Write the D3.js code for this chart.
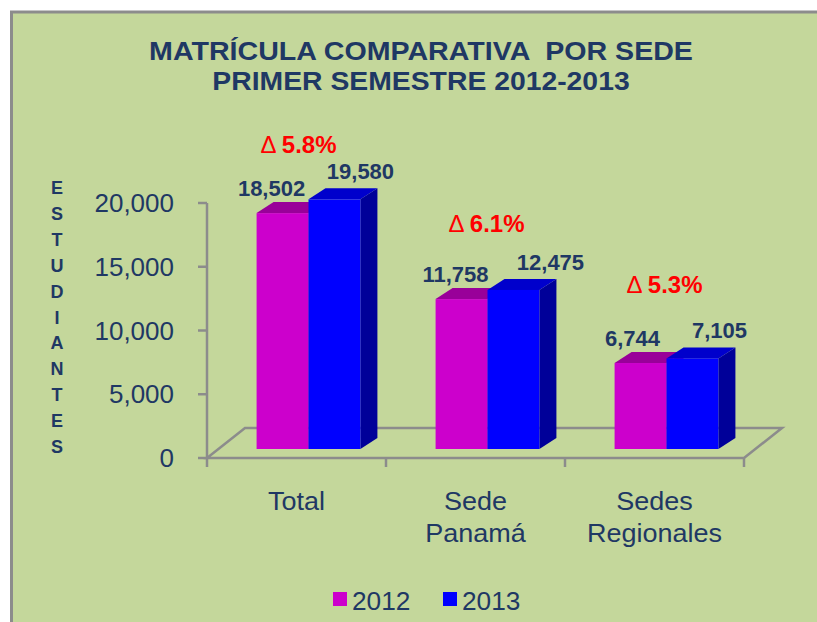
<!DOCTYPE html>
<html>
<head>
<meta charset="utf-8">
<script src="https://cdn.jsdelivr.net/npm/d3@7"></script>
<style>
  html, body { margin: 0; padding: 0; background: #fff; }
  svg { display: block; font-family: Arial, "Liberation Sans", sans-serif; }
</style>
</head>
<body>
<svg id="chart" width="817" height="622"></svg>
<script>
// data
var categories = [['Total'], ['Sede', 'Panamá'], ['Sedes', 'Regionales']];
var series = ['2012', '2013'];
var values2012 = [18502, 11758, 6744];
var values2013 = [19580, 12475, 7105];
var deltas = ['5.8%', '6.1%', '5.3%'];
var yTicks = [0, 5000, 10000, 15000, 20000];

// layout
var colors = {
  '2012': { front: '#cc00cc', top: '#990099', side: '#990099' },
  '2013': { front: '#0000ff', top: '#0000cc', side: '#000099' }
};
var textColor = '#1f3864';
var gridColor = '#8c8c8c';
var floorDepth = [38, -30];   // oblique offset of the floor
var barShift = [12, -9];      // bar front face, relative to the front plane
var barDepth = [17, -11];
// labels were placed by hand in the original, offsets from the bar front centre
var labelNudge = [[-11, 26], [-6, 37], [-8, 27]];
var deltaNudge = [[2, 43], [11, 50], [10, 53]];

var svg = d3.select('#chart');

svg.append('rect')
  .attr('x', 11.5).attr('y', 12)
  .attr('width', 830).attr('height', 640)
  .attr('fill', '#c4d79b')
  .attr('stroke', gridColor)
  .attr('stroke-width', 3);

var left = 207, right = 744, bottom = 458;

var y = d3.scaleLinear().domain([0, 20000]).range([bottom, 203]);
var keys = categories.map(function(c) { return c.join(' '); });
var x0 = d3.scaleBand().domain(keys).range([left, right])
  .paddingInner(0.42).paddingOuter(0.21);
var x1 = d3.scaleBand().domain(series).range([0, x0.bandwidth()]);
var xCat = d3.scaleBand().domain(keys).range([left, right]);

// stretched text: the original glyphs are a bit wider than Arial
function stretched(parent, x, yy, sx) {
  return parent.append('g')
    .attr('transform', 'translate(' + x + ',' + yy + ') scale(' + sx + ',1)')
    .append('text');
}

// title
var t1 = stretched(svg, 421, 60, 1.1)
  .attr('text-anchor', 'middle').attr('font-weight', 'bold')
  .attr('font-size', 26).attr('fill', textColor)
  .attr('xml:space', 'preserve')
  .text('MATRÍCULA COMPARATIVA  POR SEDE');
var t2 = stretched(svg, 421, 90, 1.09)
  .attr('text-anchor', 'middle').attr('font-weight', 'bold')
  .attr('font-size', 26).attr('fill', textColor)
  .text('PRIMER SEMESTRE 2012-2013');

// floor
var g = svg.append('g');
var fl = [[left, bottom], [right, bottom],
  [right + floorDepth[0], bottom + floorDepth[1]],
  [left + floorDepth[0], bottom + floorDepth[1]]];
g.append('path')
  .attr('d', d3.line()(fl) + 'Z')
  .attr('fill', 'none')
  .attr('stroke', gridColor)
  .attr('stroke-width', 2.5);

// value axis
g.append('line')
  .attr('x1', left).attr('x2', left)
  .attr('y1', y(20000)).attr('y2', bottom + 9)
  .attr('stroke', gridColor).attr('stroke-width', 2.5);
g.selectAll('.ytick').data(yTicks).enter().append('line')
  .attr('x1', left - 9).attr('x2', left)
  .attr('y1', function(d) { return y(d); })
  .attr('y2', function(d) { return y(d); })
  .attr('stroke', gridColor).attr('stroke-width', 2.5);
yTicks.forEach(function(d) {
  stretched(svg, 174, y(d) + 9, 1.04)
    .attr('text-anchor', 'end')
    .attr('font-size', 25)
    .attr('fill', textColor)
    .text(d3.format(',')(d));
});

// category ticks
var catTicks = keys.map(function(k) { return xCat(k) + xCat.bandwidth(); });
g.selectAll('.xtick').data(catTicks).enter().append('line')
  .attr('x1', function(d) { return d; }).attr('x2', function(d) { return d; })
  .attr('y1', bottom).attr('y2', bottom + 9)
  .attr('stroke', gridColor).attr('stroke-width', 2.5);

// axis title, one letter per line
var axisTitle = 'ESTUDIANTES'.split('');
svg.selectAll('.ytitle').data(axisTitle).enter().append('text')
  .attr('x', 57)
  .attr('y', function(d, i) { return 194 + i * 25.9; })
  .attr('text-anchor', 'middle')
  .attr('font-weight', 'bold')
  .attr('font-size', 18)
  .attr('fill', textColor)
  .text(function(d) { return d; });

// bars
var bars = [];
keys.forEach(function(k, i) {
  [values2012[i], values2013[i]].forEach(function(v, j) {
    bars.push({ cat: k, ci: i, s: series[j], si: j, v: v });
  });
});

function pts(a) { return a.map(function(p) { return p.join(','); }).join(' '); }

var bar = g.selectAll('.bar').data(bars).enter().append('g');
bar.each(function(d) {
  var sel = d3.select(this);
  var xa = x0(d.cat) + x1(d.s) + barShift[0];
  var xb = xa + x1.bandwidth();
  var yb = bottom + barShift[1];
  var yt = y(d.v) + barShift[1];
  var dx = barDepth[0], dy = barDepth[1];
  var c = colors[d.s];
  sel.append('polygon').attr('fill', c.side)
    .attr('points', pts([[xb, yb], [xb + dx, yb + dy], [xb + dx, yt + dy], [xb, yt]]));
  sel.append('polygon').attr('fill', c.top)
    .attr('points', pts([[xa, yt], [xa + dx, yt + dy], [xb + dx, yt + dy], [xb, yt]]));
  sel.append('rect').attr('fill', c.front)
    .attr('x', xa).attr('y', yt).attr('width', xb - xa).attr('height', yb - yt);
  d.cx = (xa + xb) / 2;
  d.top = yt;
});

// value labels
svg.selectAll('.vlab').data(bars).enter().append('text')
  .attr('x', function(d) { return d.cx + labelNudge[d.ci][d.si]; })
  .attr('y', function(d) { return d.top - (d.si ? 20 : 17); })
  .attr('text-anchor', 'middle')
  .attr('font-weight', 'bold')
  .attr('font-size', 22)
  .attr('fill', textColor)
  .text(function(d) { return d3.format(',')(d.v); });

// change labels
var dl = svg.selectAll('.dlab').data(deltas).enter().append('text')
  .attr('x', function(d, i) { return xCat(keys[i]) + xCat.bandwidth() / 2 + deltaNudge[i][0]; })
  .attr('y', function(d, i) { return bars[i * 2].top - 17 - deltaNudge[i][1]; })
  .attr('text-anchor', 'middle')
  .attr('font-size', 24)
  .attr('fill', '#ff0000');
dl.append('tspan').text('Δ ');
dl.append('tspan').attr('font-weight', 'bold').text(function(d) { return d; });

// category labels
categories.forEach(function(d, i) {
  var cx = xCat(keys[i]) + xCat.bandwidth() / 2;
  var t = stretched(svg, cx, 510, 1.08)
    .attr('text-anchor', 'middle')
    .attr('font-size', 25)
    .attr('fill', textColor);
  d.forEach(function(line, li) {
    t.append('tspan').attr('x', 0).attr('y', li * 32).text(line);
  });
});

// legend
var leg = svg.selectAll('.leg').data(series).enter().append('g')
  .attr('transform', function(d, i) { return 'translate(' + (333 + i * 110) + ',592)'; });
leg.append('rect').attr('width', 14).attr('height', 14)
  .attr('fill', function(d) { return colors[d].front; });
leg.append('g').attr('transform', 'translate(19,18) scale(1.05,1)')
  .append('text')
  .attr('font-size', 25)
  .attr('fill', textColor)
  .text(function(d) { return d; });
</script>
</body>
</html>
